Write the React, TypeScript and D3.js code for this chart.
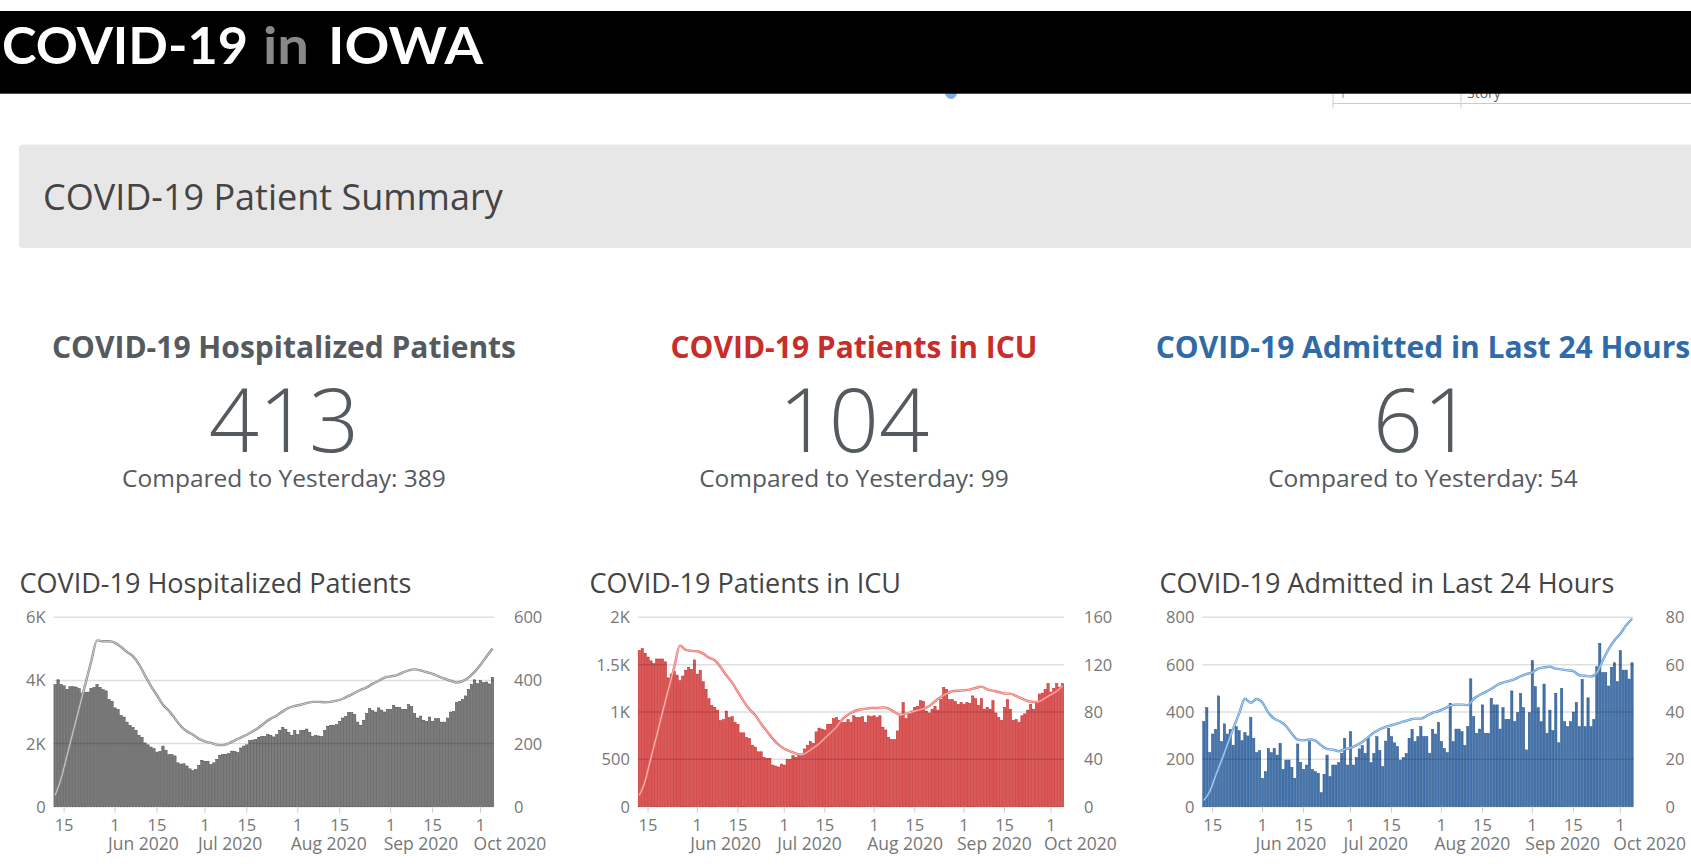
import React from 'react';
import * as d3 from 'd3';

// ---------- DATA ----------
const firstDay = new Date(2020, 4, 12);
const lastDay = new Date(2020, 9, 5);
const days = d3.timeDay.range(firstDay, d3.timeDay.offset(lastDay, 1)); // 147 daily bars
const lineDays = days.filter((_, i) => i % 2 === 0); // line read every other day

const tickDates = ['2020-05-15', '2020-06-01', '2020-06-15', '2020-07-01', '2020-07-15', '2020-08-01', '2020-08-15', '2020-09-01', '2020-09-15', '2020-10-01'];

const hospBars = [
  3870, 4020, 3870, 3830, 3720, 3800, 3800, 3790, 3740, 3600,
  3630, 3630, 3750, 3780, 3870, 3780, 3710, 3670, 3400, 3340,
  3130, 3080, 2890, 2840, 2680, 2580, 2510, 2420, 2260, 2200,
  2020, 1960, 1890, 1840, 1730, 1750, 1920, 1790, 1650, 1650,
  1610, 1390, 1350, 1360, 1290, 1200, 1140, 1180, 1310, 1470,
  1440, 1440, 1330, 1390, 1500, 1630, 1650, 1660, 1680, 1760,
  1750, 1710, 1860, 1920, 1960, 2090, 2110, 2130, 2200, 2220,
  2220, 2290, 2260, 2210, 2280, 2420, 2510, 2450, 2350, 2260,
  2410, 2280, 2410, 2420, 2460, 2350, 2220, 2260, 2240, 2220,
  2420, 2550, 2580, 2570, 2600, 2700, 2810, 2850, 2980, 2980,
  2920, 2680, 2580, 2740, 2950, 3110, 3040, 3000, 3130, 3060,
  3000, 3080, 3080, 3210, 3150, 3140, 3080, 3080, 3230, 3170,
  2950, 2810, 2870, 2740, 2700, 2840, 2700, 2790, 2790, 2680,
  2680, 2810, 3000, 3020, 3300, 3340, 3400, 3510, 3720, 3870,
  4020, 3900, 3990, 3930, 3950, 3890, 4100,
];
const hospLine = [
  36, 89, 163, 237, 311, 385, 458, 527, 524, 524,
  519, 506, 490, 476, 451, 416, 382, 353, 323, 304,
  279, 255, 239, 228, 215, 207, 202, 196, 195, 201,
  210, 219, 228, 239, 251, 266, 279, 289, 302, 313,
  319, 323, 328, 332, 332, 331, 332, 336, 342, 351,
  361, 370, 378, 389, 399, 409, 413, 417, 425, 432,
  435, 432, 426, 421, 413, 406, 399, 393, 398, 409,
  427, 450, 476, 501,
];

const icuBars = [
  1650, 1670, 1620, 1580, 1540, 1510, 1560, 1560, 1560, 1530,
  1360, 1400, 1430, 1390, 1330, 1380, 1440, 1470, 1450, 1550,
  1400, 1440, 1320, 1240, 1140, 1070, 1050, 1020, 910, 920,
  1010, 940, 950, 890, 870, 780, 780, 730, 720, 650,
  630, 580, 580, 520, 510, 510, 440, 430, 420, 450,
  440, 500, 500, 540, 520, 550, 550, 610, 650, 690,
  670, 790, 830, 820, 810, 870, 870, 930, 940, 910,
  890, 890, 920, 890, 960, 940, 940, 950, 890, 960,
  950, 960, 940, 960, 840, 810, 730, 710, 710, 800,
  950, 1100, 930, 980, 1010, 1050, 1060, 1120, 1110, 1010,
  990, 1030, 1060, 1020, 1130, 1260, 1240, 1130, 1130, 1110,
  1080, 1100, 1080, 1100, 1090, 1170, 1140, 1070, 1140, 1030,
  1050, 1030, 1120, 990, 940, 910, 1050, 1130, 1030, 910,
  920, 890, 960, 980, 1020, 1080, 1030, 1090, 1190, 1200,
  1240, 1300, 1210, 1250, 1300, 1260, 1300,
];
const icuLine = [
  9.6, 21.7, 41.4, 60.3, 80, 98.9, 117.5, 136.3, 132.4, 131.6,
  131.3, 129.3, 125.9, 123.7, 118, 111, 104.8, 96.9, 89, 82.3,
  77.2, 70.1, 63.7, 57.5, 52.4, 49, 46.8, 44.8, 43.9, 46.2,
  49.6, 53.2, 58, 62.5, 67.3, 73.8, 77.7, 80.6, 82, 82.8,
  83.4, 83.4, 83.9, 82.8, 80, 77.7, 78.6, 80, 81.4, 82.8,
  85.1, 89, 92.7, 95.5, 97.5, 98, 98.3, 98.9, 100.3, 101.4,
  99.2, 98, 96.9, 95.5, 95.5, 93.5, 91.3, 89.3, 88.5, 89,
  91.8, 94.7, 97.5, 102,
];

const admitBars = [
  359, 418, 228, 307, 327, 468, 275, 350, 307, 327,
  260, 338, 321, 279, 313, 299, 377, 289, 228, 237,
  120, 148, 246, 228, 246, 218, 268, 158, 197, 197,
  166, 120, 265, 187, 158, 176, 275, 158, 148, 141,
  59, 137, 218, 127, 176, 176, 186, 225, 289, 176,
  317, 176, 208, 244, 258, 225, 293, 186, 225, 296,
  237, 169, 277, 331, 296, 270, 254, 197, 208, 225,
  289, 327, 275, 296, 338, 296, 296, 225, 327, 307,
  356, 275, 246, 228, 437, 275, 328, 328, 317, 258,
  338, 540, 380, 310, 328, 430, 310, 310, 458, 430,
  430, 328, 418, 369, 369, 489, 359, 397, 479, 418,
  240, 397, 617, 507, 418, 359, 518, 310, 408, 321,
  479, 270, 500, 359, 338, 359, 400, 440, 338, 538,
  338, 460, 338, 369, 591, 690, 566, 566, 510, 589,
  608, 528, 659, 577, 577, 539, 608,
];
const admitLine = [
  2.7, 6.4, 13.1, 19.4, 26.2, 33, 39.3, 45.6, 43.9, 45.5,
  43.9, 39.7, 37.2, 36, 34.1, 30.8, 28.3, 28, 28.4, 27.9,
  25.9, 24.4, 24.1, 23.4, 24.2, 24.9, 25.9, 27.3, 29.3, 31.3,
  32.7, 33.7, 34.4, 35.2, 35.9, 36.7, 37.2, 37.2, 38.4, 39.6,
  40.4, 41.4, 42.7, 43.1, 43.1, 42.9, 45.6, 47.2, 48.4, 49.8,
  51.4, 52.4, 53.1, 53.9, 55.1, 56, 56.7, 58.3, 58.9, 59.1,
  58.3, 58, 57.6, 57.3, 55.5, 55.3, 55, 56.6, 61.8, 66.5,
  70.3, 73.1, 76.6, 79.4,
];

const summaryTitles = ['COVID-19 Hospitalized Patients', 'COVID-19 Patients in ICU', 'COVID-19 Admitted in Last 24 Hours'];
const todayValues = [413, 104, 61];
const yesterdayValues = [389, 99, 54];
const chartTitles = ['COVID-19 Hospitalized Patients', 'COVID-19 Patients in ICU', 'COVID-19 Admitted in Last 24 Hours'];
const leftTicks = [[0, 2000, 4000, 6000], [0, 500, 1000, 1500, 2000], [0, 200, 400, 600, 800]];
const rightTicks = [[0, 200, 400, 600], [0, 40, 80, 120, 160], [0, 20, 40, 60, 80]];

// ---------- STYLE / LAYOUT ----------
const FONT = "'Open Sans', 'Noto Sans', sans-serif";
const Y0 = 806.7;
const YTOP = 617.3;

const chartCfg = [
  { bars: hospBars, line: hospLine, left: 53.6, right: 494, titleX: 19.6, rOff: 20,
    fill: '#7c7c7c', stroke: '#454545', lineColor: '#8a8a8a', lineCore: '#dedede' },
  { bars: icuBars, line: icuLine, left: 637.9, right: 1064, titleX: 589.6, rOff: 20,
    fill: '#dc5855', stroke: '#c21f23', lineColor: '#ec6f6a', lineCore: '#f8cfcd' },
  { bars: admitBars, line: admitLine, left: 1202.4, right: 1633.5, titleX: 1159.6, rOff: 32,
    fill: '#4574ad', stroke: '#27558c', lineColor: '#5b98d2', lineCore: '#d2e3f4' },
];
const titleColors = ['#555a5e', '#c92d2a', '#2f6ba8'];
const colCenters = [284, 854, 1423];

const fmtLeft = (v: number) => (v >= 1000 ? d3.format('~s')(v).replace('k', 'K') : String(v));

function Chart({ idx }: { idx: number }) {
  const c = chartCfg[idx];
  const x = d3.scaleTime()
    .domain([d3.timeHour.offset(firstDay, -12), d3.timeHour.offset(lastDay, 12)])
    .range([c.left, c.right]);
  const lMax = leftTicks[idx][leftTicks[idx].length - 1];
  const rMax = rightTicks[idx][rightTicks[idx].length - 1];
  const yL = d3.scaleLinear().domain([0, lMax]).range([Y0, YTOP]);
  const yR = d3.scaleLinear().domain([0, rMax]).range([Y0, YTOP]);
  const bw = ((c.right - c.left) / days.length) * 0.78;
  const line = d3.line<number>()
    .x((_, i) => x(lineDays[i]))
    .y((d) => yR(d))
    .curve(d3.curveMonotoneX);
  const path = line(c.line) || '';
  const ticks = tickDates.map((s) => d3.timeParse('%Y-%m-%d')(s) as Date);
  return (
    <g>
      <text x={c.titleX} y={593} fontFamily={FONT} fontSize={27} fill="#444">{chartTitles[idx]}</text>
      {c.bars.map((v, i) => (
        <rect key={i} x={x(days[i]) - bw / 2} y={yL(v)} width={bw} height={Y0 - yL(v)}
          fill={c.fill} stroke={c.stroke} strokeWidth={0.5} />
      ))}
      {leftTicks[idx].map((t) => (
        <line key={'g' + t} x1={c.left} x2={c.right} y1={yL(t)} y2={yL(t)} stroke="#000" strokeOpacity={0.13} strokeWidth={1.5} />
      ))}
      <path d={path} fill="none" stroke={c.lineColor} strokeWidth={2.4} strokeLinejoin="round" />
      <path d={path} fill="none" stroke={c.lineCore} strokeWidth={0.8} strokeLinejoin="round" />
      {leftTicks[idx].map((t) => (
        <text key={'l' + t} x={c.left - 8} y={yL(t)} dy="0.36em" textAnchor="end" fontFamily={FONT} fontSize={16.5} fill="#777">{fmtLeft(t)}</text>
      ))}
      {rightTicks[idx].map((t) => (
        <text key={'r' + t} x={c.right + c.rOff} y={yR(t)} dy="0.36em" textAnchor="start" fontFamily={FONT} fontSize={16.5} fill="#777">{t}</text>
      ))}
      {ticks.map((d, i) => (
        <g key={'t' + i}>
          <line x1={x(d)} x2={x(d)} y1={Y0} y2={Y0 + 6} stroke="#ccc" strokeWidth={1} />
          <text x={x(d)} y={831} textAnchor="middle" fontFamily={FONT} fontSize={16.5} fill="#777">{d3.timeFormat('%-d')(d)}</text>
          {d.getDate() === 1 && (
            <text x={x(d) - 7} y={849.5} textAnchor="start" fontFamily={FONT} fontSize={17.5} fill="#777">{d3.timeFormat('%b %Y')(d)}</text>
          )}
        </g>
      ))}
    </g>
  );
}

export default function App() {
  React.useEffect(() => {
    document.body.style.margin = '0';
    document.body.style.overflow = 'hidden';
  }, []);
  return (
    <svg width={1691} height={867} style={{ position: 'absolute', left: 0, top: 0, background: '#fff' }}>
      {/* bits of page peeking out under the banner */}
      <ellipse cx={951} cy={92} rx={6} ry={7} fill="#7fb0e0" />
      <text x={1467} y={98} fontFamily={FONT} fontSize={14} fill="#666">Story</text>
      <line x1={1333} x2={1333} y1={93} y2={108} stroke="#ccc" />
      <line x1={1461} x2={1461} y1={93} y2={108} stroke="#ccc" />
      <line x1={1343} x2={1343} y1={93} y2={98} stroke="#888" />
      <line x1={1333} x2={1691} y1={103.5} y2={103.5} stroke="#ccc" />

      {/* banner */}
      <rect x={0} y={11} width={1691} height={82.7} fill="#000" />
      <text x={2} y={64.3} fontFamily="Lato, 'Open Sans', sans-serif" fontWeight={700} fontSize={52} fill="#fff" textLength={246} lengthAdjust="spacingAndGlyphs">COVID-19</text>
      <text x={263} y={64.3} fontFamily="Lato, 'Open Sans', sans-serif" fontWeight={700} fontSize={52} fill="#888" textLength={46} lengthAdjust="spacingAndGlyphs">in</text>
      <text x={328} y={64.3} fontFamily="Lato, 'Open Sans', sans-serif" fontWeight={700} fontSize={52} fill="#fff" textLength={155} lengthAdjust="spacingAndGlyphs">IOWA</text>

      {/* summary panel */}
      <rect x={19} y={144.5} width={1690} height={103.5} rx={4} fill="#e7e7e7" />
      <text x={43} y={210} fontFamily={FONT} fontSize={36} fill="#444">COVID-19 Patient Summary</text>

      {/* headline numbers */}
      {summaryTitles.map((t, i) => (
        <g key={t}>
          <text x={colCenters[i]} y={358.3} textAnchor="middle" fontFamily={FONT} fontWeight={700} fontSize={30} fill={titleColors[i]}>{t}</text>
          <text x={colCenters[i]} y={451.7} textAnchor="middle" fontFamily={FONT} fontWeight={300} fontSize={88} fill="#555a5e">{todayValues[i]}</text>
          <text x={colCenters[i]} y={486.7} textAnchor="middle" fontFamily={FONT} fontSize={24.5} fill="#555a5e">{`Compared to Yesterday: ${yesterdayValues[i]}`}</text>
        </g>
      ))}

      {chartCfg.map((_, i) => <Chart key={i} idx={i} />)}
    </svg>
  );
}
